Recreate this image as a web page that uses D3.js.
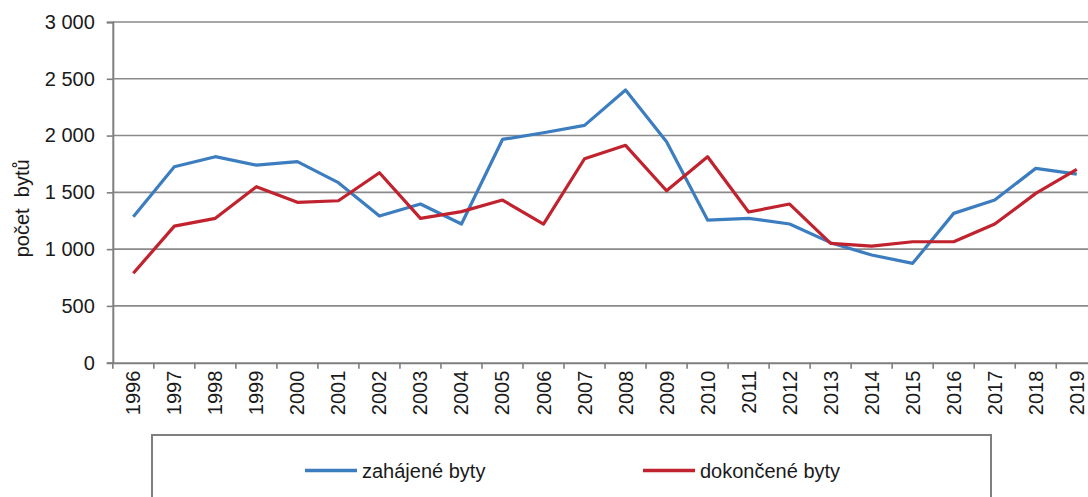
<!DOCTYPE html>
<html>
<head>
<meta charset="utf-8">
<script src="https://cdn.jsdelivr.net/npm/d3@7"></script>
<style>
  body { margin: 0; background: #fff; overflow: hidden; }
  svg { display: block; font-family: "Liberation Sans", Arial, sans-serif; }
</style>
</head>
<body>
<svg id="chart"></svg>
<script>
const years = ["1996","1997","1998","1999","2000","2001","2002","2003","2004","2005","2006","2007",
               "2008","2009","2010","2011","2012","2013","2014","2015","2016","2017","2018","2019"];
const zahajene = [1286,1726,1814,1740,1770,1585,1291,1397,1221,1966,2025,2090,
                  2401,1946,1256,1271,1221,1057,948,875,1315,1432,1711,1661];
const dokoncene = [787,1203,1271,1550,1412,1426,1673,1271,1330,1432,1221,1796,
                   1914,1514,1814,1327,1397,1051,1027,1065,1065,1221,1491,1702];
const yTicks = [0,500,1000,1500,2000,2500,3000];
const seriesNames = ["zahájené byty","dokončené byty"];
const colors = ["#3C7DC0","#C0222E"];

const W = 1088, H = 497;
const left = 112.8, band = 41.02;
const plotTop = 22, plotBottom = 362.7;

const svg = d3.select("#chart").attr("width", W).attr("height", H);

let x = d3.scaleBand().domain(years).range([left, left + band * years.length]);
let y = d3.scaleLinear().domain([0, 3000]).range([plotBottom, plotTop]);

// grid lines
svg.append("g").selectAll("line").data(yTicks.filter(d => d > 0)).enter()
    .append("line")
    .attr("x1", left).attr("x2", W + 20)
    .attr("y1", d => y(d)).attr("y2", d => y(d))
    .attr("stroke", "#8a8a8a").attr("stroke-width", 1.6);

// y axis
let yAxis = svg.append("g")
    .attr("transform", `translate(${left},0)`)
    .call(d3.axisLeft(y).tickValues(yTicks).tickSize(6).tickPadding(12)
        .tickFormat(d => d3.format(",")(d).replace(",", " ")));
yAxis.select(".domain").attr("stroke", "#7f7f7f").attr("stroke-width", 2);
yAxis.selectAll(".tick line").attr("stroke", "#7f7f7f").attr("stroke-width", 1.6);
yAxis.selectAll("text").attr("font-size", 20).attr("fill", "#1a1a1a")
    .attr("font-family", "Liberation Sans, Arial, sans-serif");

// x axis
let xAxis = svg.append("g")
    .attr("transform", `translate(0,${plotBottom})`)
    .call(d3.axisBottom(x).tickSize(0).tickFormat(""));
xAxis.select(".domain").attr("stroke", "#7f7f7f").attr("stroke-width", 2);

svg.append("g").selectAll("line").data(d3.range(years.length + 1)).enter()
    .append("line")
    .attr("x1", i => left + i * band).attr("x2", i => left + i * band)
    .attr("y1", plotBottom).attr("y2", plotBottom + 6)
    .attr("stroke", "#7f7f7f").attr("stroke-width", 1.6);

svg.append("g").selectAll("text").data(years).enter()
    .append("text")
    .attr("transform", d => `translate(${x(d) + x.bandwidth() / 2 + 7},${plotBottom + 8}) rotate(-90)`)
    .attr("text-anchor", "end")
    .attr("font-size", 20)
    .attr("fill", "#1a1a1a")
    .text(d => d);

// y axis title
svg.append("text")
    .attr("transform", `translate(29,${(plotTop + plotBottom) / 2 + 16}) rotate(-90)`)
    .attr("text-anchor", "middle")
    .attr("font-size", 20)
    .attr("fill", "#1a1a1a")
    .attr("xml:space", "preserve")
    .text("počet  bytů");

// lines
let line = d3.line()
    .x((d, i) => x(years[i]) + x.bandwidth() / 2)
    .y(d => y(d));

[zahajene, dokoncene].forEach((s, k) => {
    svg.append("path")
        .datum(s)
        .attr("d", line)
        .attr("fill", "none")
        .attr("stroke", colors[k])
        .attr("stroke-width", 3.2)
        .attr("stroke-linejoin", "round");
});

// legend
svg.append("rect")
    .attr("x", 152).attr("y", 435)
    .attr("width", 839).attr("height", 120)
    .attr("fill", "none").attr("stroke", "#7f7f7f").attr("stroke-width", 2);

let legX = [305, 643];
seriesNames.forEach((n, k) => {
    svg.append("line")
        .attr("x1", legX[k]).attr("x2", legX[k] + 52)
        .attr("y1", 470.5).attr("y2", 470.5)
        .attr("stroke", colors[k]).attr("stroke-width", 3.5);
    svg.append("text")
        .attr("x", legX[k] + 57).attr("y", 477.5)
        .attr("font-size", 20)
        .attr("fill", "#1a1a1a")
        .text(n);
});
</script>
</body>
</html>
